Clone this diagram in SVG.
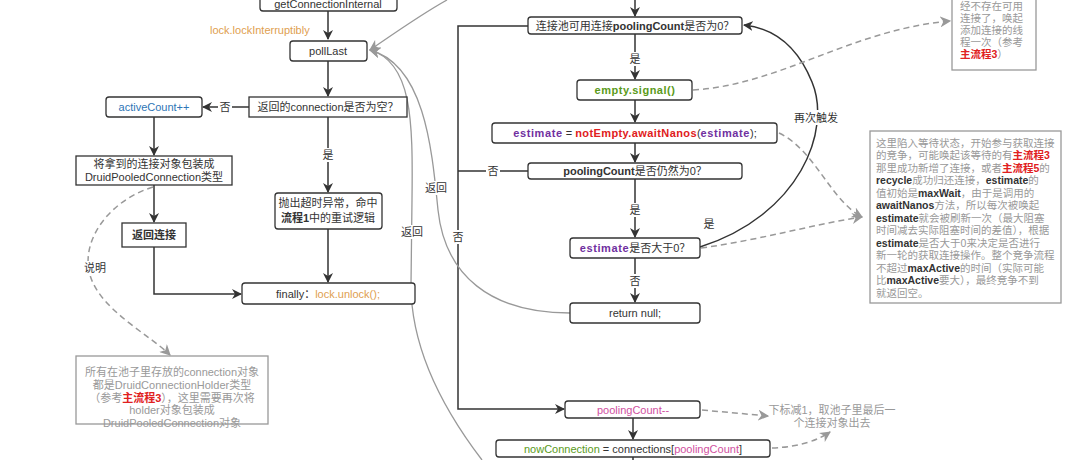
<svg xmlns="http://www.w3.org/2000/svg" width="1080" height="460" viewBox="0 0 1080 460">
<defs>
<marker id="ad" viewBox="0 0 10 10" refX="9" refY="5" markerWidth="10" markerHeight="10" markerUnits="userSpaceOnUse" orient="auto"><path d="M0,0 L10,5 L0,10 L3,5 Z" fill="#333"/></marker>
<marker id="ag" viewBox="0 0 10 10" refX="9" refY="5" markerWidth="11" markerHeight="11" markerUnits="userSpaceOnUse" orient="auto"><path d="M0,0 L10,5 L0,10 L3,5 Z" fill="#999"/></marker>
<style>
text{font-family:"Liberation Sans","Noto Sans CJK SC",sans-serif;font-size:11px;fill:#333;}
.box{fill:#fff;stroke:#333;stroke-width:1.3;}
.note{fill:#fff;stroke:#999;stroke-width:1.3;}
.ln{fill:none;stroke:#333;stroke-width:1.5;}
.gl{fill:none;stroke:#999;stroke-width:1.3;}
.dl{fill:none;stroke:#999;stroke-width:1.5;stroke-dasharray:6,4;}
.c{text-anchor:middle;}
.b{font-weight:bold;}
.org{fill:#e0a050;}
.blu{fill:#2e75b6;}
.grn{fill:#5a9a1a;}
.pur{fill:#7030a0;font-weight:bold;letter-spacing:0.6px;}
.red{fill:#e02020;font-weight:bold;}
.pnk{fill:#d050a0;}
.gt{fill:#999;}
.sm{font-size:10.5px;}
.k{fill:#333;font-weight:bold;}
.lbl{fill:#fff;}
</style>
</defs>
<rect width="1080" height="460" fill="#fff"/>

<g id="connectors">
<path class="ln" d="M328,11 L328,39" marker-end="url(#ad)"/>
<path class="ln" d="M328,61 L328,96" marker-end="url(#ad)"/>
<path class="ln" d="M249,107 L203,107" marker-end="url(#ad)"/>
<path class="ln" d="M154,117 L154,155" marker-end="url(#ad)"/>
<path class="ln" d="M154,185 L154,222" marker-end="url(#ad)"/>
<path class="ln" d="M154,247 L154,294 L241,294" marker-end="url(#ad)"/>
<path class="ln" d="M328,117 L328,192" marker-end="url(#ad)"/>
<path class="ln" d="M328,229 L328,282" marker-end="url(#ad)"/>
<path class="ln" d="M635,0 L635,16" marker-end="url(#ad)"/>
<path class="ln" d="M528,26 L458,26 L458,409 L564,409" marker-end="url(#ad)"/>
<path class="ln" d="M528,171 L458,171"/>
<path class="ln" d="M635,34 L635,79" marker-end="url(#ad)"/>
<path class="ln" d="M635,100 L635,122" marker-end="url(#ad)"/>
<path class="ln" d="M635,143 L635,162" marker-end="url(#ad)"/>
<path class="ln" d="M635,179 L635,237" marker-end="url(#ad)"/>
<path class="ln" d="M635,258 L635,302" marker-end="url(#ad)"/>
<path class="ln" d="M633,418 L633,439" marker-end="url(#ad)"/>
<path class="ln" d="M633,457 L633,460"/>
<path class="ln" d="M700,247 C 800,215 832,130 812,82 C 797,45 772,28 744,25" marker-end="url(#ad)"/>
<path class="gl" d="M447,0 C 420,15 392,35 370,50" marker-end="url(#ag)"/>
<path class="gl" d="M570,313 C 490,313 445,275 438,210 C 432,150 425,65 370,50" marker-end="url(#ag)"/>
<path class="gl" d="M482,460 C 440,405 411,345 411,285 L 412,200 C 413,120 412,62 370,50" marker-end="url(#ag)"/>
<path class="dl" d="M153,187 C 110,200 80,240 90,275 C 100,310 150,335 170,355" marker-end="url(#ag)"/>
<path class="dl" d="M693,90 C 780,85 850,30 950,21" marker-end="url(#ag)"/>
<path class="dl" d="M779,133 C 815,150 830,200 862,217" marker-end="url(#ag)"/>
<path class="dl" d="M701,248 C 760,240 810,225 862,217" marker-end="url(#ag)"/>
<path class="dl" d="M702,410 L 768,416" marker-end="url(#ag)"/>
<path class="dl" d="M772,448 C 800,447 818,440 830,432" marker-end="url(#ag)"/>
<rect class="lbl" x="218" y="100" width="14" height="14"/>
<text x="225" y="111" class="c">否</text>
<rect class="lbl" x="321" y="148" width="14" height="14"/>
<text x="328" y="159" class="c">是</text>
<rect class="lbl" x="628" y="52" width="14" height="14"/>
<text x="635" y="63" class="c">是</text>
<rect class="lbl" x="628" y="203" width="14" height="14"/>
<text x="635" y="214" class="c">是</text>
<rect class="lbl" x="628" y="274" width="14" height="14"/>
<text x="635" y="285" class="c">否</text>
<rect class="lbl" x="486" y="164" width="14" height="14"/>
<text x="493" y="175" class="c">否</text>
<rect class="lbl" x="451" y="230" width="14" height="14"/>
<text x="458" y="241" class="c">否</text>
<text x="709" y="228" class="c">是</text>
<rect class="lbl" x="795" y="110" width="42" height="15"/>
<text x="816" y="122" class="c">再次触发</text>
<rect class="lbl" x="400" y="225" width="24" height="14"/>
<text x="412" y="236" class="c">返回</text>
<rect class="lbl" x="424" y="181" width="24" height="14"/>
<text x="436" y="192" class="c">返回</text>
<rect class="lbl" x="82" y="261" width="26" height="15"/>
<text x="95" y="272" class="c">说明</text>
<text x="210" y="34" class="org">lock.lockInterruptibly</text>
</g>

<g id="getConnectionInternal">
<rect class="box" x="260" y="-8" width="137" height="19" rx="3"/>
<text x="328" y="8" class="c">getConnectionInternal</text>
</g>
<g id="pollLast">
<rect class="box" x="290" y="41" width="77" height="20" rx="3"/>
<text x="328" y="55" class="c">pollLast</text>
</g>
<g id="isNull">
<rect class="box" x="249" y="97" width="158" height="20"/>
<text x="328" y="111" class="c">返回的connection是否为空？</text>
</g>
<g id="activeCount">
<rect class="box" x="106" y="97" width="96" height="20" rx="3"/>
<text x="154" y="111" class="c blu">activeCount++</text>
</g>
<g id="wrap">
<rect class="box" x="76" y="156" width="156" height="29"/>
<text x="154" y="168" class="c">将拿到的连接对象包装成</text>
<text x="154" y="181" class="c">DruidPooledConnection类型</text>
</g>
<g id="returnConn">
<rect class="box" x="122" y="223" width="64" height="24"/>
<text x="154" y="239" class="c b">返回连接</text>
</g>
<g id="timeout">
<rect class="box" x="275" y="193" width="107" height="36" rx="3"/>
<text x="328" y="207" class="c">抛出超时异常，命中</text>
<text x="328" y="222" class="c"><tspan class="b">流程1</tspan>中的重试逻辑</text>
</g>
<g id="finally">
<rect class="box" x="242" y="283" width="173" height="21" rx="3"/>
<text x="328" y="298" class="c">finally：<tspan class="org">lock.unlock();</tspan></text>
</g>
<g id="noteHolder">
<rect class="note" x="76" y="356" width="192" height="68"/>
<text x="172" y="376" class="c gt">所有在池子里存放的connection对象</text>
<text x="172" y="389" class="c gt">都是DruidConnectionHolder类型</text>
<text x="172" y="402" class="c gt">（参考<tspan class="red">主流程3</tspan>），这里需要再次将</text>
<text x="172" y="414" class="c gt">holder对象包装成</text>
<text x="172" y="427" class="c gt">DruidPooledConnection对象</text>
</g>
<g id="poolZero">
<rect class="box" x="528" y="17" width="214" height="17" rx="3"/>
<text x="635" y="30" class="c">连接池可用连接<tspan class="b">poolingCount</tspan>是否为0？</text>
</g>
<g id="emptySignal">
<rect class="box" x="577" y="80" width="115" height="20" rx="3"/>
<text x="635" y="94" class="c grn b" style="letter-spacing:0.5px">empty.signal()</text>
</g>
<g id="await">
<rect class="box" x="492" y="123" width="285" height="20" rx="3"/>
<text x="635" y="137" class="c"><tspan class="pur">estimate</tspan> = <tspan class="red" style="letter-spacing:0.4px">notEmpty.awaitNanos</tspan>(<tspan class="pur">estimate</tspan>);</text>
</g>
<g id="stillZero">
<rect class="box" x="528" y="163" width="214" height="16" rx="3"/>
<text x="635" y="175" class="c"><tspan class="b">poolingCount</tspan>是否仍然为0？</text>
</g>
<g id="estGt0">
<rect class="box" x="570" y="238" width="130" height="20" rx="3"/>
<text x="635" y="252" class="c"><tspan class="pur">estimate</tspan>是否大于0？</text>
</g>
<g id="returnNull">
<rect class="box" x="570" y="303" width="130" height="20" rx="3"/>
<text x="635" y="317" class="c">return null;</text>
</g>
<g id="poolingDec">
<rect class="box" x="565" y="401" width="135" height="17" rx="3"/>
<text x="633" y="414" class="c pnk">poolingCount--</text>
</g>
<g id="nowConn">
<rect class="box" x="496" y="440" width="274" height="17" rx="3"/>
<text x="633" y="453" class="c"><tspan class="grn">nowConnection</tspan> = connections[<tspan class="pnk">poolingCount</tspan>]</text>
</g>
<g id="noteDec">
<text x="832" y="414" class="c gt">下标减1，取池子里最后一</text>
<text x="832" y="427" class="c gt">个连接对象出去</text>
</g>
<g id="noteSignal">
<rect class="note" x="952" y="-20" width="84" height="90"/>
<text x="960" y="10" class="gt sm">经不存在可用</text>
<text x="960" y="22" class="gt sm">连接了，唤起</text>
<text x="960" y="34" class="gt sm">添加连接的线</text>
<text x="960" y="46" class="gt sm">程一次（参考</text>
<text x="960" y="58" class="gt sm"><tspan class="red">主流程3</tspan>）</text>
</g>
<g id="noteWait">
<rect class="note" x="870" y="131" width="191" height="172"/>
<text x="876" y="147" class="gt sm">这里陷入等待状态，开始参与获取连接</text>
<text x="876" y="159" class="gt sm">的竞争，可能唤起该等待的有<tspan class="red">主流程3</tspan></text>
<text x="876" y="172" class="gt sm">那里成功新增了连接，或者<tspan class="red">主流程5</tspan>的</text>
<text x="876" y="184" class="gt sm"><tspan class="k">recycle</tspan>成功归还连接，<tspan class="k">estimate</tspan>的</text>
<text x="876" y="197" class="gt sm">值初始是<tspan class="k">maxWait</tspan>，由于是调用的</text>
<text x="876" y="209" class="gt sm"><tspan class="k">awaitNanos</tspan>方法，所以每次被唤起</text>
<text x="876" y="222" class="gt sm"><tspan class="k">estimate</tspan>就会被刷新一次（最大阻塞</text>
<text x="876" y="234" class="gt sm">时间减去实际阻塞时间的差值），根据</text>
<text x="876" y="247" class="gt sm"><tspan class="k">estimate</tspan>是否大于0来决定是否进行</text>
<text x="876" y="259" class="gt sm">新一轮的获取连接操作。整个竞争流程</text>
<text x="876" y="272" class="gt sm">不超过<tspan class="k">maxActive</tspan>的时间（实际可能</text>
<text x="876" y="284" class="gt sm">比<tspan class="k">maxActive</tspan>要大），最终竞争不到</text>
<text x="876" y="297" class="gt sm">就返回空。</text>
</g>
</svg>
